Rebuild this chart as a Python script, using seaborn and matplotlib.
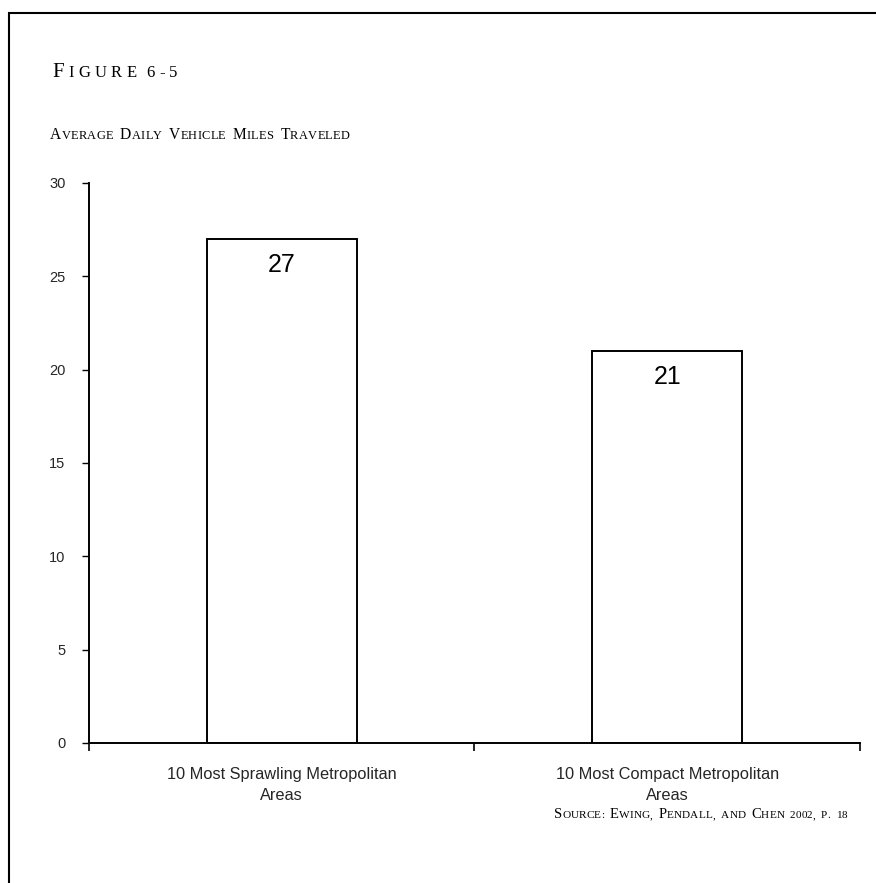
import matplotlib
matplotlib.use("Agg")
import matplotlib.pyplot as plt
import seaborn as sns
from matplotlib.offsetbox import TextArea, HPacker, AnchoredOffsetbox
from matplotlib.patches import Rectangle

# Average daily vehicle miles traveled (Ewing, Pendall and Chen 2002)
categories = ["10 Most Sprawling Metropolitan\nAreas",
              "10 Most Compact Metropolitan\nAreas"]
vmt = [27, 21]
y_ticks = [0, 5, 10, 15, 20, 25, 30]

fig_label = "Figure 6-5"
title = "Average Daily Vehicle Miles Traveled"
source = "Source: Ewing, Pendall, and Chen 2002, p. 18"

sns.set_style("white")
plt.rcParams["font.family"] = ["Liberation Sans", "DejaVu Sans"]

fig = plt.figure(figsize=(8.76, 8.83), dpi=100)
ax = fig.add_axes([0.1016, 0.1586, 0.8801, 0.6342])

sns.barplot(x=categories, y=vmt, ax=ax, width=0.39, color="white",
            edgecolor="black", linewidth=1.4, saturation=1)

for i, v in enumerate(vmt):
    ax.text(i, v - 1.4, str(v), ha="center", va="center", fontsize=18, color="black")

ax.set_xlim(-0.5, 1.5)
ax.set_ylim(0, 30)
ax.set_yticks(y_ticks)
ax.set_yticklabels([str(t) for t in y_ticks], fontsize=10.5)
ax.tick_params(axis="y", length=5, width=1, color="black", direction="out", pad=12, left=True)
ax.set_xticks([0, 1])
ax.set_xticklabels(categories, fontsize=11.8, linespacing=1.5)
ax.tick_params(axis="x", length=0, pad=17)
ax.set_xticks([-0.5, 0.5, 1.5], minor=True)
ax.tick_params(axis="x", which="minor", length=6, width=1.2, color="black", direction="out", bottom=True)
sns.despine(ax=ax)
for s in ["left", "bottom"]:
    ax.spines[s].set_color("black")
    ax.spines[s].set_linewidth(1.4)


def small_caps(text, big, small, spacing=0.6, word_gap=5, family="Liberation Serif"):
    words = []
    for word in text.split(" "):
        chars = []
        for ch in word:
            size = big if ch.isupper() else small
            chars.append(TextArea(ch.upper(), textprops=dict(fontsize=size, family=family, color="black")))
        words.append(HPacker(children=chars, align="baseline", pad=0, sep=spacing))
    return HPacker(children=words, align="baseline", pad=0, sep=word_gap)


def place(box, x, y, loc):
    anchored = AnchoredOffsetbox(loc=loc, child=box, bbox_to_anchor=(x, y),
                                 bbox_transform=fig.transFigure, frameon=False,
                                 pad=0, borderpad=0)
    fig.add_artist(anchored)


place(small_caps(fig_label, 15, 12, spacing=3.2, word_gap=7), 52 / 876, 1 - 82 / 883, "lower left")
place(small_caps(title, 11.2, 8.9, spacing=0.2, word_gap=5), 50 / 876, 1 - 143 / 883, "lower left")
place(small_caps(source, 10.5, 8.1, spacing=0.1, word_gap=4), 847 / 876, 1 - 821 / 883, "lower right")

# page frame
fig.add_artist(Rectangle((9 / 876, -0.1), 1.2, 1 - 13 / 883 + 0.1, transform=fig.transFigure,
                         fill=False, edgecolor="black", linewidth=1.5))

fig.savefig("out.png", dpi=100, facecolor="white")
